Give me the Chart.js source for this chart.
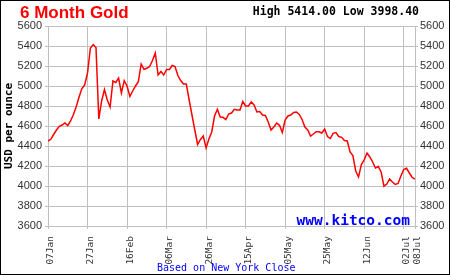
<!DOCTYPE html>
<html>
<head>
<meta charset="utf-8">
<script src="https://cdn.jsdelivr.net/npm/chart.js@4/dist/chart.umd.min.js"></script>
<style>
  html, body { margin: 0; padding: 0; background: #fff; }
  #wrap { position: relative; width: 450px; height: 275px; overflow: hidden; background: #fff; }
  #chart { position: absolute; left: 0; top: 0; }
  .txt { position: absolute; white-space: pre; }
  #title { left: 20px; top: 4px; font: bold 17px/17px "Liberation Sans", Arial, sans-serif; color: #ff0000; }
  #hilo { right: 31px; top: 5px; font: bold 11.5px/12px "DejaVu Sans Mono", monospace; color: #000; }
  #site { right: 40px; top: 213px; font: bold 14.5px/14.5px "DejaVu Sans Mono", monospace; color: #0000ff; }
  #note { left: 157px; top: 263px; font: 10px/10px "DejaVu Sans Mono", monospace; color: #0000ff; }
  #frame { position: absolute; left: 0; top: 0; width: 450px; height: 275px; box-sizing: border-box; border: 1px solid #000; pointer-events: none; }
</style>
</head>
<body>
<div id="wrap">
  <canvas id="chart" width="450" height="275"></canvas>
  <div class="txt" id="title">6 Month Gold</div>
  <div class="txt" id="hilo">High 5414.00 Low 3998.40</div>
  <div class="txt" id="site">www.kitco.com</div>
  <div class="txt" id="note">Based on New York Close</div>
  <div id="frame"></div>
</div>
<script>
// daily NY close, one value per weekday, 07Jan .. 08Jul
const prices = [
  4450, 4467, 4515, 4560, 4597, 4610, 4630, 4605, 4650, 4715,
  4793, 4890, 4975, 5010, 5130, 5377, 5414, 5385, 4670, 4850,
  4965, 4860, 4790, 5050, 5035, 5080, 4930, 5053, 5000, 4895,
  4950, 5000, 5043, 5220, 5167, 5177, 5195, 5255, 5330, 5110,
  5145, 5110, 5165, 5165, 5205, 5195, 5105, 5055, 5020, 5020,
  4860, 4710, 4560, 4415, 4465, 4500, 4380, 4470, 4540, 4700,
  4767, 4690, 4687, 4665, 4720, 4730, 4767, 4760, 4760, 4845,
  4800, 4800, 4840, 4810, 4740, 4745, 4710, 4705, 4640, 4560,
  4590, 4630, 4607, 4535, 4660, 4700, 4710, 4735, 4740, 4715,
  4665, 4590, 4560, 4500, 4520, 4543, 4543, 4530, 4570, 4495,
  4475, 4527, 4535, 4495, 4487, 4455, 4450, 4340, 4305, 4150,
  4090, 4215, 4260, 4330, 4290, 4240, 4180, 4195, 4140, 3998,
  4020, 4070, 4040, 4015, 4025, 4100, 4165, 4177, 4130, 4085,
  4070
];
const tickLabels = ['07Jan', '27Jan', '16Feb', '06Mar', '26Mar', '15Apr', '05May', '25May', '12Jun', '02Jul', '08Jul'];
const tickIndex = [0, 14, 28, 42, 56, 70, 84, 98, 112, 126, 130];
const yTicks = [3600, 3800, 4000, 4200, 4400, 4600, 4800, 5000, 5200, 5400, 5600];

const gridColor = '#c0c0c0';
const tickFont = { family: '"Liberation Sans", Arial, sans-serif', size: 11 };

const points = prices.map((p, i) => ({ x: i, y: p }));

const yAxis = (side) => ({
  position: side,
  min: yTicks[0],
  max: yTicks[yTicks.length - 1],
  afterBuildTicks: (axis) => { axis.ticks = yTicks.map(v => ({ value: v })); },
  afterFit: (axis) => { axis.width = side === 'left' ? 48 : 35; },
  grid: { color: gridColor, lineWidth: 1, tickLength: 3, drawOnChartArea: side === 'left' },
  border: { color: gridColor },
  ticks: {
    font: tickFont,
    color: '#333',
    padding: side === 'left' ? 3 : 2,
    callback: (v) => String(v)
  },
  title: {
    display: side === 'left',
    text: 'USD per ounce',
    color: '#000',
    font: { family: '"DejaVu Sans Mono", monospace', size: 11, weight: 'bold' },
    padding: { top: 3, bottom: 0 }
  }
});

new Chart(document.getElementById('chart'), {
  type: 'line',
  data: {
    datasets: [{
      data: points,
      borderColor: '#ff0000',
      borderWidth: 1.5,
      pointRadius: 0,
      tension: 0,
      fill: false
    }]
  },
  options: {
    responsive: false,
    animation: false,
    layout: { padding: { top: 26, left: 0, right: 0, bottom: 0 } },
    plugins: { legend: { display: false }, tooltip: { enabled: false } },
    scales: {
      x: {
        type: 'linear',
        min: 0,
        max: prices.length - 1,
        afterBuildTicks: (axis) => { axis.ticks = tickIndex.map(v => ({ value: v })); },
        afterFit: (axis) => { axis.height = 49; },
        grid: { color: gridColor, lineWidth: 1, tickLength: 3 },
        border: { color: gridColor },
        ticks: {
          autoSkip: false,
          minRotation: 90,
          maxRotation: 90,
          padding: 7,
          labelOffset: 3,
          color: '#333',
          font: { family: '"DejaVu Sans Mono", monospace', size: 9.5 },
          callback: (v) => tickLabels[tickIndex.indexOf(v)]
        }
      },
      y: yAxis('left'),
      y2: yAxis('right')
    }
  }
});
</script>
</body>
</html>
